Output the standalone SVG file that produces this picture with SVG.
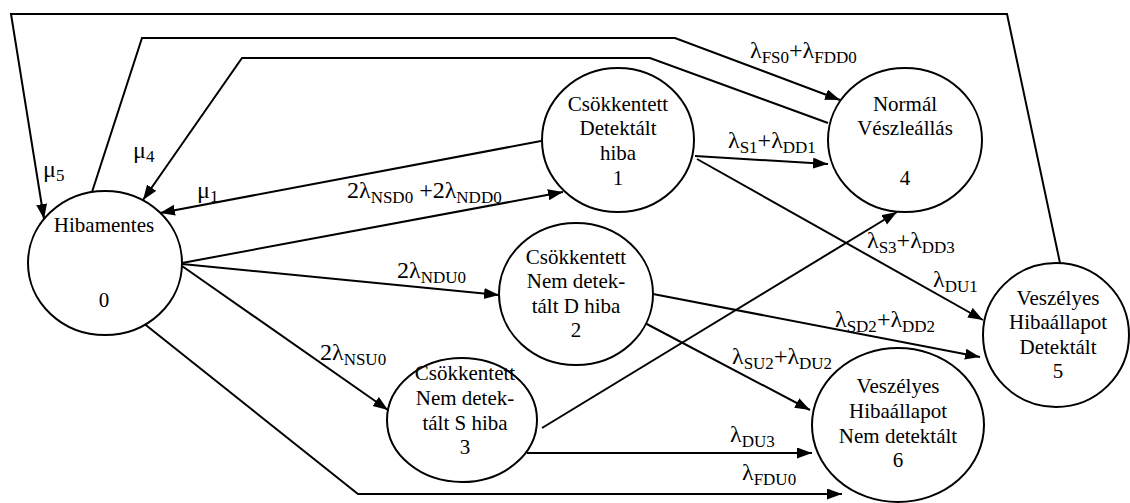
<svg xmlns="http://www.w3.org/2000/svg" width="1130" height="503" viewBox="0 0 1130 503" font-family="Liberation Serif, DejaVu Serif, serif">
<style>
.n{fill:#fff;stroke:#000;stroke-width:2}
.t{font-size:21px;fill:#000;text-anchor:middle}
.c{fill:none;stroke:#000;stroke-width:2;marker-end:url(#ah)}
.l{font-size:24px;fill:#000}
.s{font-size:17px}
</style>
<defs>
<marker id="ah" markerUnits="userSpaceOnUse" markerWidth="16" markerHeight="12" refX="15" refY="5.5" orient="auto">
<path d="M0,0 L15,5.5 L0,11 Z" fill="#000"/>
</marker>
</defs>
<rect width="1130" height="503" fill="#fff"/>
<g id="connectors">
<polyline class="c" points="1060,263 1007,14 11,14 44,219"/>
<polyline class="c" points="92,192 142,38 675,38 840,100"/>
<polyline class="c" points="828,123 650,58 242,58 143,200"/>
<line class="c" x1="541" y1="141" x2="160" y2="213"/>
<line class="c" x1="182" y1="263" x2="563" y2="192"/>
<line class="c" x1="182" y1="264" x2="499" y2="295"/>
<line class="c" x1="182" y1="266" x2="388" y2="410"/>
<polyline class="c" points="142,322 358,494 842,494"/>
<line class="c" x1="527" y1="453" x2="812" y2="453"/>
<line class="c" x1="542" y1="428" x2="897" y2="212"/>
<line class="c" x1="695" y1="156" x2="828" y2="164"/>
<line class="c" x1="697" y1="159" x2="983" y2="320"/>
<line class="c" x1="653" y1="294" x2="980" y2="357"/>
<line class="c" x1="643" y1="322" x2="810" y2="410"/>
</g>
<g id="labels" font-family="Liberation Serif, DejaVu Serif, serif">
<text class="l" x="43" y="177">μ<tspan class="s" dy="4">5</tspan></text>
<text class="l" x="133" y="158">μ<tspan class="s" dy="4">4</tspan></text>
<text class="l" x="197" y="198">μ<tspan class="s" dy="4">1</tspan></text>
<text class="l" x="347" y="198">2λ<tspan class="s" dy="5">NSD0</tspan><tspan dy="-5"> +2λ</tspan><tspan class="s" dy="5">NDD0</tspan></text>
<text class="l" x="397" y="278">2λ<tspan class="s" dy="5">NDU0</tspan></text>
<text class="l" x="320" y="360">2λ<tspan class="s" dy="5">NSU0</tspan></text>
<text class="l" x="750" y="58">λ<tspan class="s" dy="5">FS0</tspan><tspan dy="-5">+λ</tspan><tspan class="s" dy="5">FDD0</tspan></text>
<text class="l" x="728" y="148">λ<tspan class="s" dy="5">S1</tspan><tspan dy="-5">+λ</tspan><tspan class="s" dy="5">DD1</tspan></text>
<text class="l" x="867" y="248">λ<tspan class="s" dy="5">S3</tspan><tspan dy="-5">+λ</tspan><tspan class="s" dy="5">DD3</tspan></text>
<text class="l" x="933" y="287">λ<tspan class="s" dy="5">DU1</tspan></text>
<text class="l" x="835" y="327">λ<tspan class="s" dy="5">SD2</tspan><tspan dy="-5">+λ</tspan><tspan class="s" dy="5">DD2</tspan></text>
<text class="l" x="732" y="364">λ<tspan class="s" dy="5">SU2</tspan><tspan dy="-5">+λ</tspan><tspan class="s" dy="5">DU2</tspan></text>
<text class="l" x="730" y="442">λ<tspan class="s" dy="5">DU3</tspan></text>
<text class="l" x="742" y="480">λ<tspan class="s" dy="5">FDU0</tspan></text>
</g>
<g id="node0" font-family="Liberation Serif, DejaVu Serif, serif">
<ellipse class="n" cx="105" cy="263" rx="77" ry="72"/>
<text class="t" x="104" y="232">Hibamentes</text>
<text class="t" x="104" y="307">0</text>
</g>
<g id="node1" font-family="Liberation Serif, DejaVu Serif, serif">
<ellipse class="n" cx="618" cy="140" rx="76" ry="72"/>
<text class="t" x="618" y="111">Csökkentett</text>
<text class="t" x="618" y="135">Detektált</text>
<text class="t" x="618" y="160">hiba</text>
<text class="t" x="618" y="185">1</text>
</g>
<g id="node2" font-family="Liberation Serif, DejaVu Serif, serif">
<ellipse class="n" cx="576" cy="294" rx="77" ry="71"/>
<text class="t" x="576" y="264">Csökkentett</text>
<text class="t" x="576" y="288">Nem detek-</text>
<text class="t" x="576" y="313">tált D hiba</text>
<text class="t" x="576" y="337">2</text>
</g>
<g id="node3" font-family="Liberation Serif, DejaVu Serif, serif">
<ellipse class="n" cx="462" cy="420" rx="75" ry="62"/>
<text class="t" x="465" y="380">Csökkentett</text>
<text class="t" x="465" y="405">Nem detek-</text>
<text class="t" x="465" y="430">tált S hiba</text>
<text class="t" x="465" y="454">3</text>
</g>
<g id="node4" font-family="Liberation Serif, DejaVu Serif, serif">
<ellipse class="n" cx="905" cy="140" rx="77" ry="72"/>
<text class="t" x="905" y="111">Normál</text>
<text class="t" x="905" y="135">Vészleállás</text>
<text class="t" x="905" y="185">4</text>
</g>
<g id="node5" font-family="Liberation Serif, DejaVu Serif, serif">
<ellipse class="n" cx="1056" cy="335" rx="73" ry="72"/>
<text class="t" x="1058" y="305">Veszélyes</text>
<text class="t" x="1058" y="329">Hibaállapot</text>
<text class="t" x="1058" y="354">Detektált</text>
<text class="t" x="1058" y="378">5</text>
</g>
<g id="node6" font-family="Liberation Serif, DejaVu Serif, serif">
<ellipse class="n" cx="898" cy="425" rx="86" ry="77"/>
<text class="t" x="898" y="393">Veszélyes</text>
<text class="t" x="898" y="418">Hibaállapot</text>
<text class="t" x="898" y="443">Nem detektált</text>
<text class="t" x="898" y="467">6</text>
</g>
</svg>
